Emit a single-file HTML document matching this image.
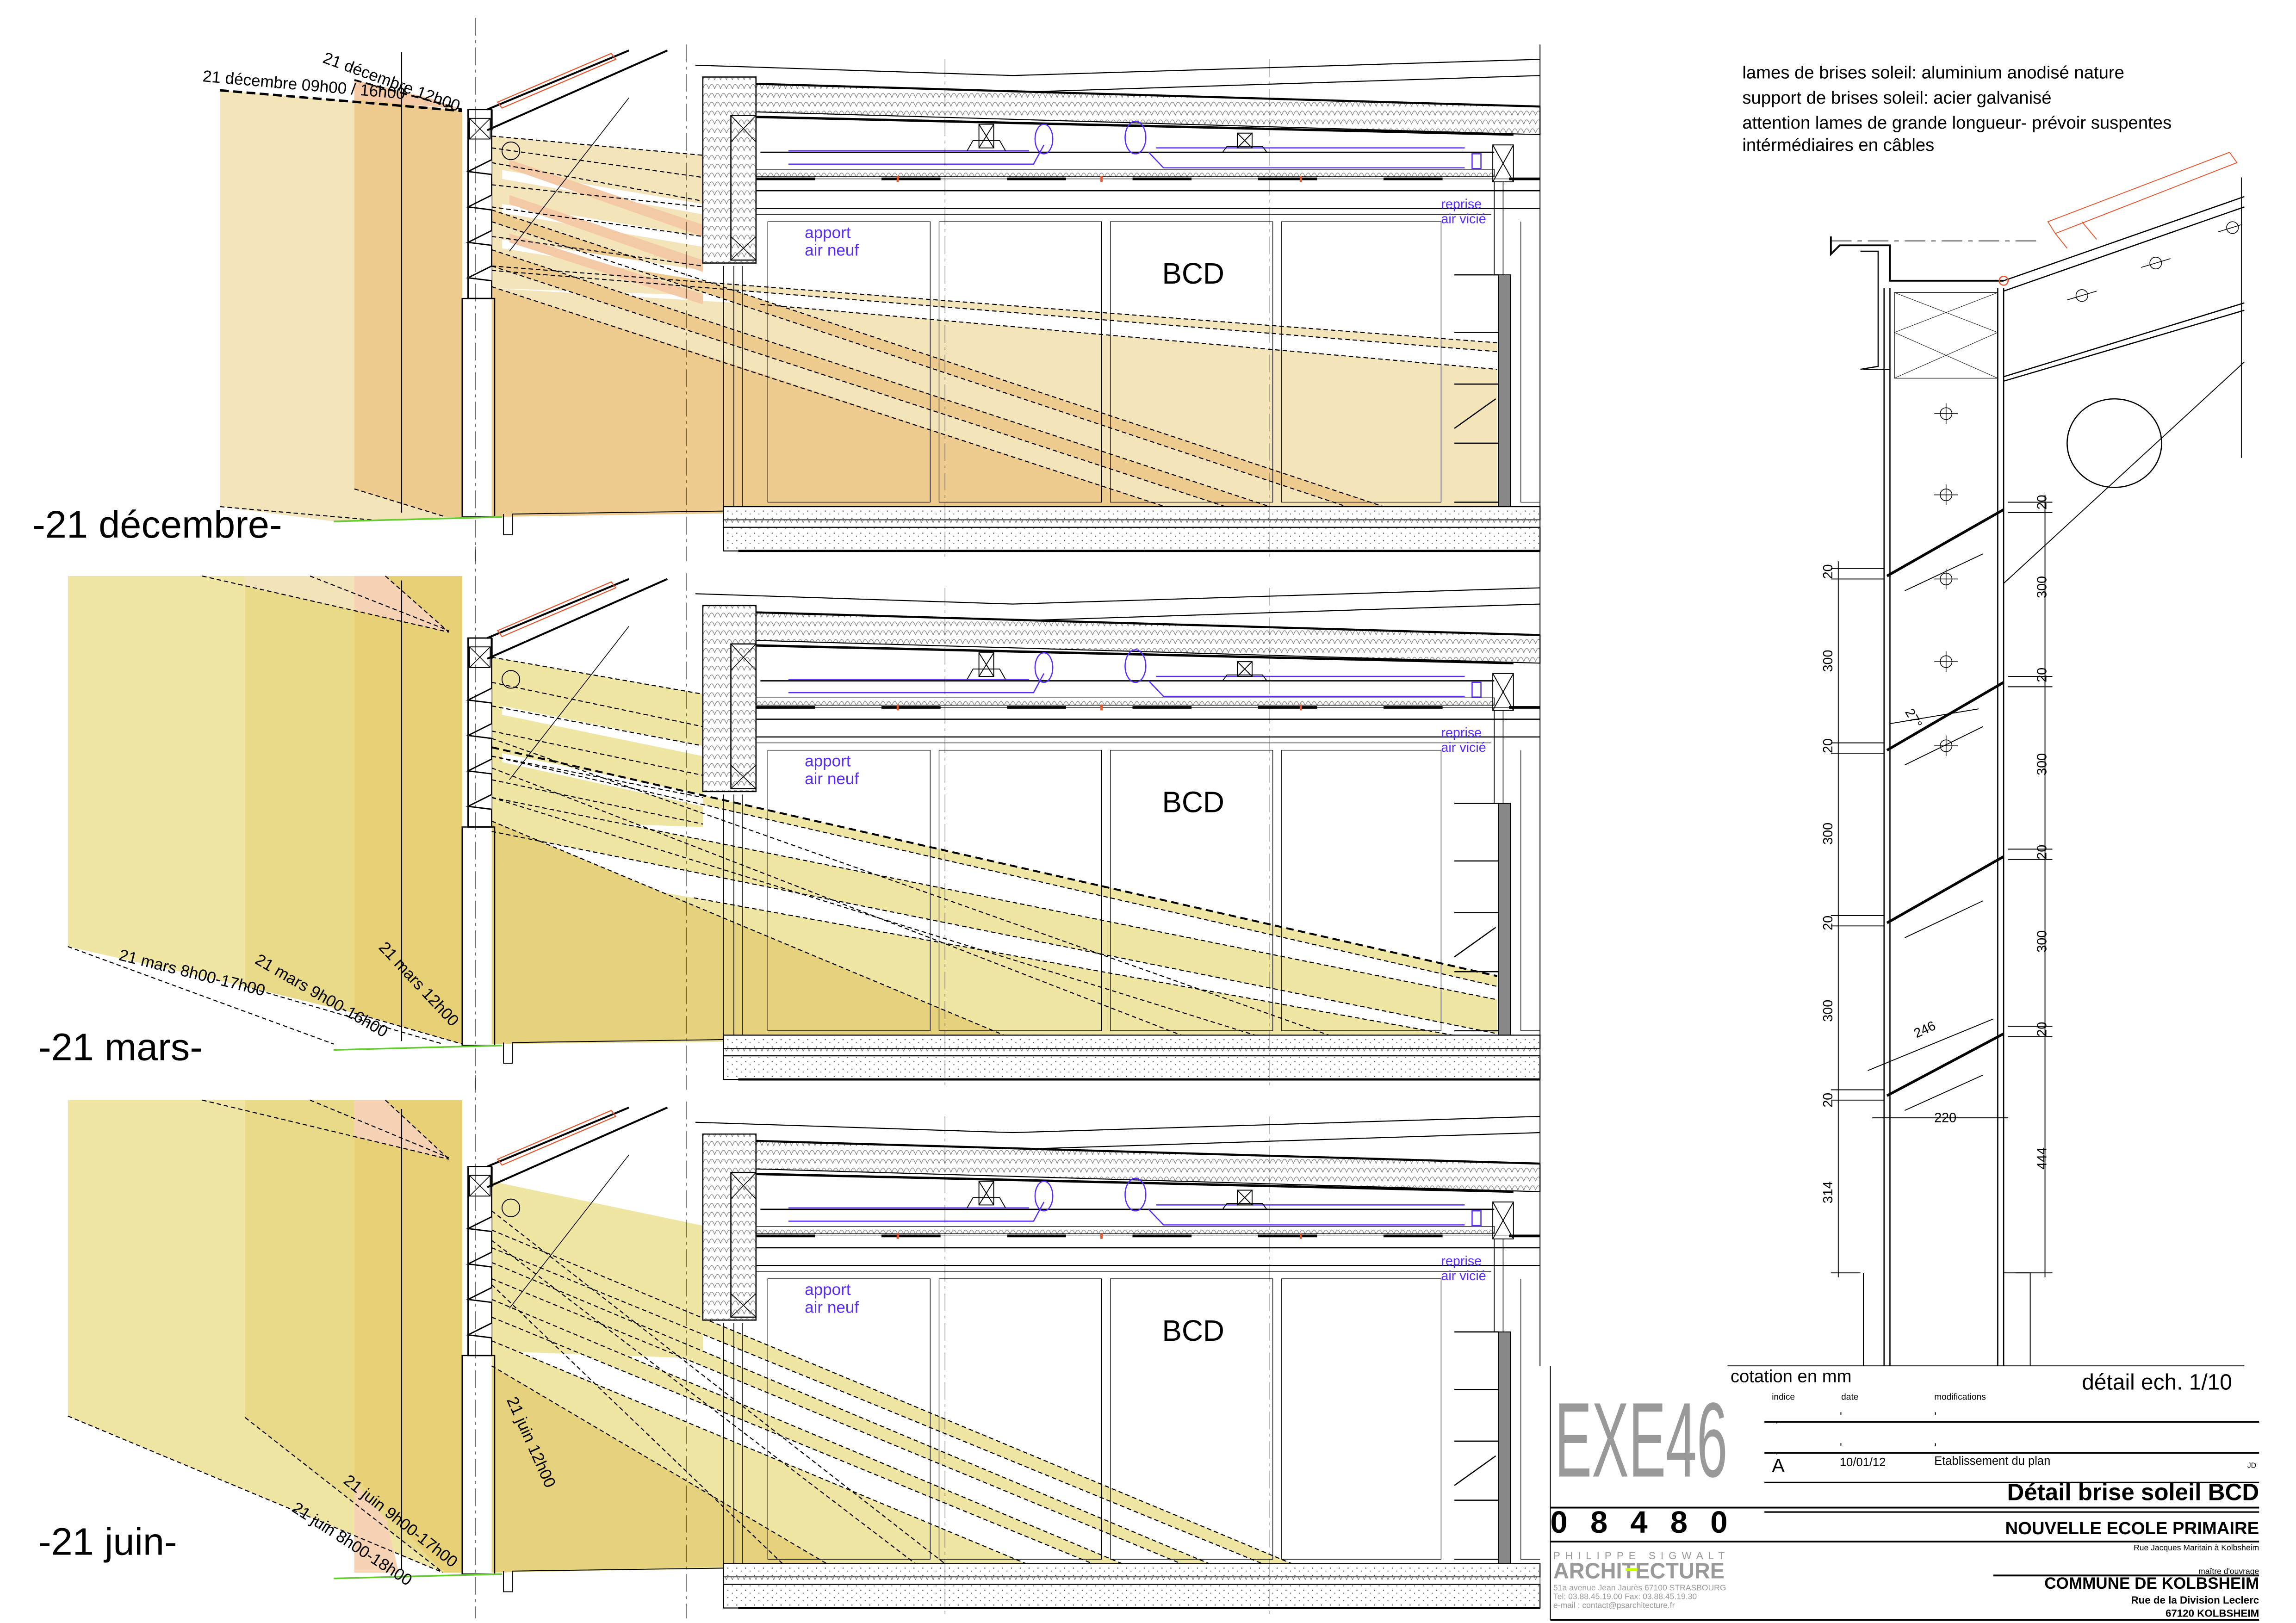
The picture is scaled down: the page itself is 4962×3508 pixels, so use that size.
<!DOCTYPE html>
<html><head><meta charset="utf-8"><style>
html,body{margin:0;padding:0;background:#fff}
svg{display:block}
text{font-family:"Liberation Sans",sans-serif}
</style></head><body>
<svg width="4962" height="3508" viewBox="0 0 1555 1099" xmlns="http://www.w3.org/2000/svg">
<defs>
<pattern id="ins" width="4" height="6" patternUnits="userSpaceOnUse"><rect width="4" height="6" fill="#fff"/><path d="M0 6 Q2 0 4 6" stroke="#777" stroke-width="0.4" fill="none"/></pattern>
<pattern id="dots" width="6" height="5" patternUnits="userSpaceOnUse"><rect width="6" height="5" fill="#fff"/><circle cx="1" cy="1" r="0.4" fill="#555"/><circle cx="4" cy="3" r="0.35" fill="#555"/></pattern>
<g id="bldg" fill="none" stroke="#000" stroke-width="0.8">
  <!-- roof -->
  <path d="M471 44 L686 51 L1043 40" stroke-width="0.7"/>
  <path d="M698 62 L1043 51" stroke-width="0.7"/>
  <polygon points="491,56 1043,72 1043,91 491,75" fill="url(#ins)" stroke-width="0.7"/>
  <path d="M491 56 L1043 72" stroke-width="1.4"/>
  <path d="M512 79 L1025 91" stroke-width="1.6"/>
  <path d="M515 103 L1012 103" stroke-width="0.9"/>
  <rect x="512" y="114.5" width="500" height="5" fill="url(#ins)" stroke-width="0.4"/>
  <path d="M512 121 L1043 121" stroke-width="1.8" stroke-dasharray="40 45"/>
  <path d="M512 121 L1043 121" stroke-width="0.4"/>
  <path d="M512 129 L1043 129 M512 141 L1043 141" stroke-width="0.8"/>
  <path d="M512 145 L1010 145" stroke-width="0.4"/>
  <!-- ducts -->
  <path d="M534 102 L697 102 M534 111 L700 111 L707 98 M783 100 L992 100 M778 103 L788 113.5 L992 113.5" stroke="#5a2bff" stroke-width="0.8"/>
  <ellipse cx="707" cy="94" rx="6" ry="10" stroke="#5a2bff"/>
  <ellipse cx="769" cy="93" rx="7" ry="11" stroke="#5a2bff"/>
  <rect x="997" y="104" width="6" height="10" stroke="#5a2bff"/>
  <path d="M663 84 h10 v16 h-10 z M663 84 l10 16 M673 84 l-10 16 M838 90 h10 v10 h-10z M838 90 l10 10 M848 90 l-10 10" stroke-width="0.6"/>
  <path d="M655 102 l4 -7 h18 l4 7 M828 103 l3 -4 h24 l3 4" stroke-width="0.6"/>
  <path d="M608 119 v4 M746 119 v4 M881 119 v4" stroke="#e4572e" stroke-width="1.5"/>
  <!-- facade -->
  <rect x="476" y="52" width="36" height="126" fill="url(#ins)" stroke-width="0.8"/>
  <rect x="495" y="78" width="17" height="98" fill="url(#ins)" stroke-width="0.8"/>
  <path d="M495 78 l17 18 M512 78 l-17 18 M495 160 l17 16 M512 160 l-17 16" stroke-width="0.5"/>
  <path d="M1011 98 h14 v25 h-14z M1011 98 l14 25 M1025 98 l-14 25" stroke-width="0.6"/>
  <!-- room frames -->
  <rect x="520" y="150" width="110" height="190" stroke-width="0.4"/>
  <rect x="636" y="150" width="110" height="190" stroke-width="0.4"/>
  <rect x="752" y="150" width="110" height="190" stroke-width="0.4"/>
  <rect x="868" y="150" width="108" height="190" stroke-width="0.4"/>
  <path d="M490 180 L490 345 M497 180 L497 345 M503 180 L503 345" stroke-width="0.5"/>
  <!-- right wall -->
  <rect x="1015" y="186" width="8" height="168" fill="#888" stroke-width="0.6"/>
  <path d="M985 186 h30 M985 225 h30 M985 260 h30 M985 300 h30 M985 340 h30 M985 290 l28 -20" stroke-width="0.8"/>
  <path d="M1018 123 L1018 186 M1012 123 L1012 186" stroke-width="0.5"/>
  <path d="M1030 150 L1030 340 L1043 340" stroke-width="0.4"/>
  <!-- floor -->
  <rect x="490" y="343" width="553" height="9" fill="url(#dots)" stroke-width="0.7"/>
  <rect x="490" y="352" width="553" height="5" fill="url(#ins)" stroke-width="0.4"/>
  <rect x="490" y="357" width="553" height="16" fill="url(#dots)" stroke-width="0.7"/>
  <path d="M500 373 L1043 373" stroke-width="1.5"/>
  <!-- exterior column and roof overhang -->
  <rect x="317" y="74" width="16" height="128" fill="none" stroke-width="0.9"/>
  <rect x="318" y="80" width="14" height="14" fill="#fff" stroke-width="0.6"/>
  <path d="M318 80 l14 14 M332 80 l-14 14" stroke-width="0.5"/>
  <rect x="313" y="202" width="22" height="148" fill="none" stroke-width="0.8"/>
  <path d="M333 108 L317 116 L333 118 M333 132 L317 140 L333 142 M333 156 L317 164 L333 166 M333 180 L317 188 L333 190" stroke-width="0.9" fill="#fff"/>
  <path d="M330 74 L426 34 M330 88 L452 34 M333 74 L333 88" stroke-width="1.3"/>
  <path d="M337 69 L414 36 L417 40 L340 73 Z" fill="none" stroke="#e4572e" stroke-width="0.7"/>
  <path d="M426 66 L345 170" stroke-width="0.5"/>
  <circle cx="346" cy="102" r="6" stroke-width="0.6"/>
  <path d="M322 12 L322 380 M465 30 L465 380 M640 40 L640 380 M860 40 L860 380" stroke-width="0.4" stroke-dasharray="12 3 2 3" opacity="0.6"/>
  <path d="M272 35 L272 347" stroke-width="0.7"/>
  <path d="M341 348 L341 362 L347 362 L347 348 L490 346" stroke-width="0.6"/>
  <path d="M226 353 L340 350" stroke="#6c3" stroke-width="1.1"/>
</g>
</defs>

<!-- ===== Panel 1 ===== -->
<polygon points="149,61 313,75 313,350 226,353 149,343" fill="#f3e4ba"/>
<polygon points="240,66 313,75 313,350 302,350 240,331" fill="#eecb8e"/>
<polygon points="240,54 290,66 313,74 240,67" fill="#f4c9a6"/>
<!-- room Dec -->
<polygon points="333,92 476,105 476,200 333,195" fill="#f3e4ba"/>
<polygon points="333,180 1014,232 1014,238 333,183" fill="#f3e4ba"/>
<polygon points="333,195 515,206 1014,250 1014,343 490,343 333,350" fill="#f3e4ba"/>
<polygon points="333,194 507,250 789,343 333,350" fill="#eecb8e"/>
<polygon points="333,142 937,343 912,343 333,150" fill="#eecb8e"/>
<polygon points="333,169 860,343 830,343 333,180" fill="#eecb8e"/>
<polygon points="340,115 476,138 476,145 340,121" fill="#fff"/>
<polygon points="340,138 476,160 476,167 340,144" fill="#fff"/>
<polygon points="340,162 476,183 476,190 340,168" fill="#fff"/>
<polygon points="345,108 476,152 476,160 345,114" fill="#f4c9a6"/>
<polygon points="345,132 476,176 476,184 345,138" fill="#f4c9a6"/>
<polygon points="345,158 476,199 476,206 345,164" fill="#f4c9a6"/>
<g fill="none" stroke="#000" stroke-width="0.7" stroke-dasharray="3 2">
<path d="M149 61 L313 75" stroke-width="1.6" stroke-dasharray="6 3"/>
<path d="M240 54 L313 74" stroke-width="1.2" stroke-dasharray="5 3"/>
<path d="M333 92 L476 105 M333 100 L476 120 M333 110 L476 136 M333 125 L476 140 M333 140 L476 160 M333 160 L476 180"/>
<path d="M333 180 L1014 232 M333 183 L1014 238 M515 206 L1014 250"/>
<path d="M333 142 L937 343 M333 150 L912 343 M333 169 L860 343 M333 180 L830 343 M333 194 L789 343"/>
<path d="M240 331 L302 350 M149 343 L252 352"/>
</g>
<use href="#bldg"/>

<!-- ===== Panel 2 ===== -->
<polygon points="46,390 166,390 166,668 46,641" fill="#efe6a4"/>
<polygon points="166,390 240,390 240,686 166,668" fill="#e8da88"/>
<polygon points="166,390 240,390 240,413 166,397" fill="#f2e4b8"/>
<polygon points="240,390 313,390 313,707 240,686" fill="#e8d077"/>
<polygon points="240,390 261,390 304,428 240,413" fill="#f7d3b6"/>
<polygon points="333,445 476,470 476,560 333,555" fill="#efe6a4"/>
<polygon points="333,506 1014,661 1014,668 333,512" fill="#efe6a4"/>
<polygon points="333,540 1014,677 1014,700 333,563" fill="#efe6a4"/>
<polygon points="333,585 470,608 984,701 333,707" fill="#efe6a4"/>
<polygon points="333,556 680,701 333,707" fill="#e6d27c"/>
<polygon points="340,478 476,505 476,512 340,484" fill="#fff"/>
<polygon points="340,510 476,538 476,546 340,516" fill="#fff"/>
<polygon points="470,612 1014,690 1014,697 470,622" fill="#fff" opacity="0"/>
<g fill="none" stroke="#000" stroke-width="0.7" stroke-dasharray="3 2">
<path d="M137 390 L304 428 M210 390 L304 427 M261 390 L304 428"/>
<path d="M333 445 L476 470 M333 462 L476 492 M333 478 L476 505 M333 495 L476 525 M333 512 L476 540 M333 528 L476 558"/>
<path d="M333 506 L1014 661" stroke-width="1.3" stroke-dasharray="5 3"/>
<path d="M333 512 L1014 668 M333 540 L1014 677 M333 563 L1014 700 M470 608 L984 701"/>
<path d="M333 556 L680 701 M333 520 L800 701 M333 540 L850 701 M333 500 L900 701"/>
<path d="M46 641 L226 707 M166 668 L300 707 M240 686 L313 707"/>
</g>
<use href="#bldg" y="358"/>

<!-- ===== Panel 3 ===== -->
<polygon points="46,745 166,745 166,960 300,1065 46,959" fill="#efe6a4"/>
<polygon points="166,745 240,745 240,1000 300,1065 166,960" fill="#e8da88"/>
<polygon points="240,745 313,745 313,1065 300,1065 240,1000" fill="#e8d077"/>
<polygon points="240,745 261,745 304,785 240,770" fill="#f7d3b6"/>
<polygon points="240,1004 262,1030 270,1065 240,1065" fill="#f7d3b6"/>
<polygon points="333,800 476,830 476,920 333,915" fill="#efe6a4"/>
<polygon points="333,833 875,1059 855,1059 333,845" fill="#efe6a4"/>
<polygon points="333,855 819,1059 800,1059 333,866" fill="#efe6a4"/>
<polygon points="333,880 760,1059 740,1059 333,892" fill="#efe6a4"/>
<polygon points="333,908 695,1059 333,1065" fill="#efe6a4"/>
<polygon points="333,925 560,1059 333,1065" fill="#e6d27c"/>
<g fill="none" stroke="#000" stroke-width="0.7" stroke-dasharray="3 2">
<path d="M137 745 L304 785 M210 745 L304 784 M261 745 L304 785"/>
<path d="M333 833 L875 1059 M333 845 L855 1059 M333 855 L819 1059 M333 866 L800 1059 M333 880 L760 1059 M333 892 L740 1059"/>
<path d="M333 908 L695 1059 M333 925 L560 1059 M333 820 L640 1059 M333 840 L620 1059 M333 870 L530 1059"/>
<path d="M46 959 L300 1065 M166 960 L300 1065"/>
</g>
<use href="#bldg" y="716"/>

<!-- panel texts -->
<g font-size="11" fill="#000">
<text x="137" y="55" transform="rotate(5 137 55)">21 décembre 09h00 / 16h00</text>
<text x="218" y="42" transform="rotate(20 218 42)">21 décembre 12h00</text>
<text x="80" y="650" transform="rotate(14 80 650)">21 mars 8h00-17h00</text>
<text x="172" y="652" transform="rotate(30 172 652)">21 mars 9h00-16h00</text>
<text x="256" y="642" transform="rotate(47 256 642)">21 mars 12h00</text>
<text x="343" y="948" transform="rotate(66 343 948)">21 juin 12h00</text>
<text x="232" y="1004" transform="rotate(38 232 1004)">21 juin 9h00-17h00</text>
<text x="197" y="1023" transform="rotate(33 197 1023)">21 juin 8h00-18h00</text>
</g>
<g font-size="26" fill="#000">
<text x="22" y="364">-21 décembre-</text>
<text x="26" y="718">-21 mars-</text>
<text x="26" y="1053">-21 juin-</text>
</g>
<g font-size="20" fill="#000">
<text x="787" y="192">BCD</text><text x="787" y="550">BCD</text><text x="787" y="908">BCD</text>
</g>
<g font-size="11" fill="#5a2bff">
<text x="545" y="161">apport</text><text x="545" y="173">air neuf</text>
<text x="545" y="519">apport</text><text x="545" y="531">air neuf</text>
<text x="545" y="877">apport</text><text x="545" y="889">air neuf</text>
<g font-size="9"><text x="976" y="141">reprise</text><text x="976" y="151">air vicié</text>
<text x="976" y="499">reprise</text><text x="976" y="509">air vicié</text>
<text x="976" y="857">reprise</text><text x="976" y="867">air vicié</text></g>
</g>
<path d="M1043 30 L1043 925" stroke="#000" stroke-width="0.6"/>

<!-- ===== Right detail ===== -->
<g font-size="12" fill="#000">
<text x="1180" y="53">lames de brises soleil: aluminium anodisé nature</text>
<text x="1180" y="70">support de brises soleil: acier galvanisé</text>
<text x="1180" y="87">attention lames de grande longueur- prévoir suspentes</text>
<text x="1180" y="102">intérmédiaires en câbles</text>
</g>
<g fill="none" stroke="#000" stroke-width="0.8">
<path d="M1240 160 L1240 172 L1246 166 L1280 166 L1280 190 L1357 190" stroke-width="1.2"/>
<path d="M1260 170 L1272 170 L1272 248 L1260 250 M1262 250 L1280 250"/>
<path d="M1240 163 L1380 163" stroke-dasharray="14 4 3 4" stroke-width="0.5"/>
<path d="M1276 195 L1276 925 M1280 195 L1280 925 M1353 195 L1353 925 M1357 195 L1357 925"/>
<rect x="1283" y="198" width="70" height="58" stroke-width="0.4"/>
<path d="M1283 198 L1353 225 M1353 198 L1283 225 M1283 225 L1353 256 M1353 225 L1283 256" stroke-width="0.3"/>
<path d="M1357 190 L1520 133 M1357 197 L1520 140 M1357 255 L1520 205 M1357 258 L1520 210" stroke-width="0.8"/>
<path d="M1387 150 L1510 103 L1515 110 L1392 158 Z M1392 158 L1400 168 M1410 150 L1420 162" stroke="#e4572e" stroke-width="0.6"/>
<circle cx="1357" cy="190" r="3" stroke="#e4572e"/>
<ellipse cx="1432" cy="300" rx="32" ry="30"/>
<path d="M1520 245 L1357 395 M1518 120 L1518 310" stroke-width="0.6"/>
<g stroke-width="0.5">
<path d="M1310 280 h16 M1318 273 v14 M1310 335 h16 M1318 328 v14 M1310 392 h16 M1318 385 v14 M1310 448 h16 M1318 441 v14 M1310 505 h16 M1318 498 v14"/>
<circle cx="1318" cy="280" r="4"/><circle cx="1318" cy="335" r="4"/><circle cx="1318" cy="392" r="4"/><circle cx="1318" cy="448" r="4"/><circle cx="1318" cy="505" r="4"/>
<circle cx="1410" cy="200" r="4"/><circle cx="1460" cy="178" r="4"/><circle cx="1512" cy="154" r="4"/>
<path d="M1400 203 l20 -6 M1450 181 l20 -6 M1502 157 l16 -5"/>
</g>
<g stroke-width="1.8">
<path d="M1278 390 L1357 345 M1278 508 L1357 462 M1278 625 L1357 580 M1278 742 L1357 700"/>
</g>
<g stroke-width="0.6">
<path d="M1290 400 L1343 375 M1290 518 L1343 492 M1290 635 L1343 610 M1290 752 L1343 728"/>
<path d="M1245 380 L1245 865 M1385 335 L1385 865"/>
<path d="M1240 385 h36 M1240 392 h36 M1240 503 h36 M1240 510 h36 M1240 620 h36 M1240 627 h36 M1240 738 h36 M1240 745 h36 M1240 862 h20"/>
<path d="M1360 340 h30 M1360 347 h30 M1360 458 h30 M1360 465 h30 M1360 575 h30 M1360 582 h30 M1360 695 h30 M1360 702 h30 M1365 862 h25"/>
<path d="M1268 757 L1360 757 M1265 725 L1350 690 M1280 490 L1340 480"/>
<path d="M1262 862 L1262 925 M1357 862 L1375 862 L1375 925"/>
</g>
</g>
<g font-size="9" fill="#000">
<g transform="rotate(-90)">
<text x="-392" y="1241">20</text><text x="-455" y="1241">300</text><text x="-510" y="1241">20</text><text x="-572" y="1241">300</text><text x="-630" y="1241">20</text><text x="-692" y="1241">300</text><text x="-750" y="1241">20</text><text x="-815" y="1241">314</text>
<text x="-345" y="1386">20</text><text x="-405" y="1386">300</text><text x="-462" y="1386">20</text><text x="-525" y="1386">300</text><text x="-582" y="1386">20</text><text x="-645" y="1386">300</text><text x="-702" y="1386">20</text><text x="-792" y="1386">444</text>
</g>
<text x="1290" y="482" transform="rotate(60 1290 482)">27°</text>
<text x="1298" y="703" transform="rotate(-25 1298 703)">246</text>
<text x="1310" y="760">220</text>
</g>

<!-- ===== Title block ===== -->
<g stroke="#000" fill="none">
<path d="M1170 925 L1520 925" stroke-width="0.6"/>
<path d="M1050 925 L1050 1097" stroke-width="0.6"/>
<path d="M1195 963 L1530 963 M1195 984 L1530 984 M1195 1004 L1530 1004 M1195 1024 L1530 1024" stroke-width="1"/>
<path d="M1050 1021 L1530 1021 M1050 1044 L1530 1044 M1350 1067 L1530 1067 M1050 1097 L1530 1097" stroke-width="1.2"/>
</g>
<text x="1172" y="936" font-size="12">cotation en mm</text>
<text x="1410" y="941" font-size="15">détail ech. 1/10</text>
<text x="1053" y="1000" font-size="72" fill="#999" textLength="117" lengthAdjust="spacingAndGlyphs">EXE46</text>
<g font-size="6"><text x="1200" y="948">indice</text><text x="1247" y="948">date</text><text x="1310" y="948">modifications</text></g>
<g font-size="8"><text x="1202" y="964">.</text><text x="1246" y="962">'</text><text x="1310" y="962">'</text><text x="1202" y="985">.</text><text x="1246" y="983">'</text><text x="1310" y="983">'</text>
<text x="1200" y="997" font-size="13">A</text><text x="1246" y="993">10/01/12</text><text x="1310" y="992">Etablissement du plan</text><text x="1522" y="994" font-size="5">JD</text></g>
<text x="1530" y="1016" font-size="16" font-weight="bold" text-anchor="end">Détail brise soleil BCD</text>
<text x="1050" y="1038" font-size="21" font-weight="bold" textLength="120" lengthAdjust="spacing">0 8 4 8 0</text>
<text x="1530" y="1039" font-size="12" font-weight="bold" text-anchor="end">NOUVELLE ECOLE PRIMAIRE</text>
<text x="1530" y="1050" font-size="5.5" text-anchor="end">Rue Jacques Maritain à Kolbsheim</text>
<text x="1052" y="1056" font-size="7" fill="#999" textLength="116" lengthAdjust="spacing">PHILIPPE SIGWALT</text>
<text x="1052" y="1069" font-size="15" font-weight="bold" fill="#999" textLength="116" lengthAdjust="spacingAndGlyphs">ARCHITECTURE</text>
<rect x="1101" y="1062" width="8" height="2" fill="#c8ff00"/>
<g font-size="5.5" fill="#999"><text x="1052" y="1077">51a avenue Jean Jaurès   67100 STRASBOURG</text><text x="1052" y="1083">Tel: 03.88.45.19.00   Fax: 03.88.45.19.30</text><text x="1052" y="1089">e-mail :   contact@psarchitecture.fr</text></g>
<text x="1530" y="1066" font-size="5.5" text-anchor="end">maître d'ouvrage</text>
<text x="1530" y="1076" font-size="11" font-weight="bold" text-anchor="end">COMMUNE DE KOLBSHEIM</text>
<text x="1530" y="1086" font-size="7" font-weight="bold" text-anchor="end">Rue de la Division Leclerc</text>
<text x="1530" y="1095" font-size="7" font-weight="bold" text-anchor="end">67120 KOLBSHEIM</text>
</svg>
</body></html>
